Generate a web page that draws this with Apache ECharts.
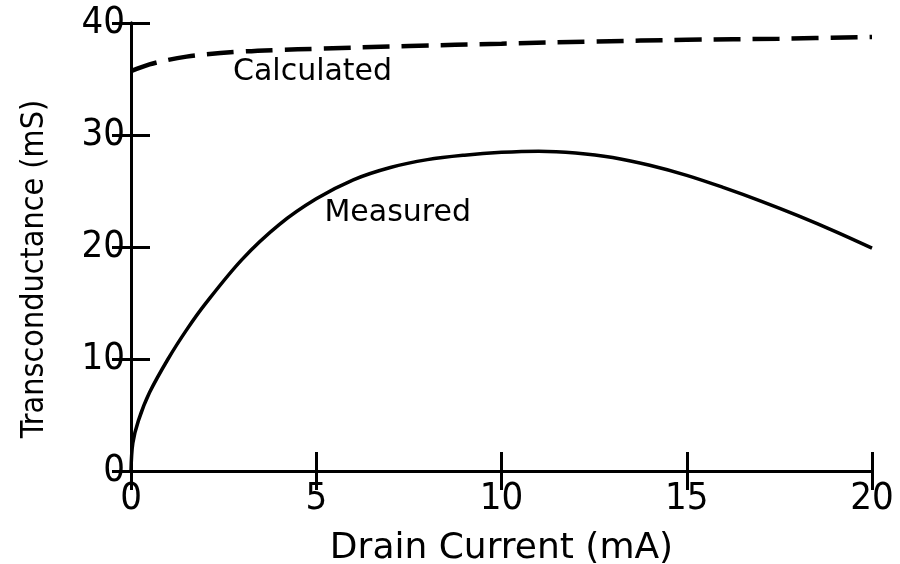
<!DOCTYPE html>
<html>
<head>
<meta charset="utf-8">
<script src="https://cdn.jsdelivr.net/npm/echarts@6/dist/echarts.min.js"></script>
<style>
  html, body { margin: 0; padding: 0; background: #fff; }
  #chart { width: 900px; height: 564px; }
</style>
</head>
<body>
<div id="chart"></div>
<script>
// values (drain current in mA, transconductance in mS)
const measuredX = [0, 0.05, 0.2, 0.5, 1, 1.5, 2, 3, 4, 5, 6, 7, 8, 9, 10, 11, 12, 13, 14, 15, 16, 17, 18, 19, 20];
const measuredY = [0, 2.5, 4.5, 7, 10, 12.6, 14.9, 18.9, 22.0, 24.3, 26.0, 27.1, 27.8, 28.2, 28.45, 28.55, 28.4, 28.0, 27.3, 26.4, 25.3, 24.1, 22.8, 21.4, 19.9];

const calculatedX = [0, 0.5, 1, 1.5, 2, 3, 4, 5, 7.5, 10, 12.5, 15, 17.5, 20];
const calculatedY = [35.7, 36.3, 36.7, 37.0, 37.2, 37.45, 37.6, 37.7, 37.95, 38.15, 38.35, 38.5, 38.6, 38.75];

// curve captions, placed at data coordinates
const captionText = ['Calculated', 'Measured'];
const captionX = [4.9, 7.2];
const captionY = [35.6, 23.0];

const xTicks = [0, 5, 10, 15, 20];
const yTicks = [0, 10, 20, 30, 40];

const FONT = 'DejaVu Sans';
const FONT_C = 'DejaVu Sans Condensed';
const INK = '#000';

const pair = (xs, ys) => xs.map((x, i) => [x, ys[i]]);

const chart = echarts.init(document.getElementById('chart'));

const axisCommon = {
  type: 'value',
  axisLine: { show: true, lineStyle: { color: INK, width: 3 } },
  axisTick: { show: true, inside: true, length: 19, lineStyle: { color: INK, width: 3 } },
  splitLine: { show: false },
  axisLabel: { color: INK, fontFamily: FONT_C, fontSize: 38 },
};

const option = {
  backgroundColor: '#fff',
  animation: false,
  grid: { left: 131, right: 28, top: 23, bottom: 93, containLabel: false, outerBoundsMode: 'none' },
  xAxis: [
    {
      ...axisCommon,
      min: xTicks[0], max: xTicks[xTicks.length - 1], interval: 5,
      name: 'Drain Current (mA)',
      nameLocation: 'middle',
      nameGap: 60,
      nameTextStyle: { color: INK, fontFamily: FONT, fontSize: 36 },
      axisLabel: { ...axisCommon.axisLabel, margin: 9 },
    },
    {
      ...axisCommon,
      position: 'top',
      min: xTicks[0], max: xTicks[xTicks.length - 1], interval: 5,
      axisLabel: { show: false },
    },
  ],
  yAxis: [
    {
      ...axisCommon,
      min: yTicks[0], max: yTicks[yTicks.length - 1], interval: 10,
      name: 'Transconductance (mS)',
      nameLocation: 'middle',
      nameGap: 80,
      nameTextStyle: { color: INK, fontFamily: FONT_C, fontSize: 32, padding: [0, 44, 0, 0] },
      axisLabel: { ...axisCommon.axisLabel, margin: 6 },
    },
    {
      ...axisCommon,
      position: 'right',
      min: yTicks[0], max: yTicks[yTicks.length - 1], interval: 10,
      axisLabel: { show: false },
    },
  ],
  series: [
    {
      name: 'Measured',
      type: 'line',
      smooth: 0.35,
      symbol: 'none',
      data: pair(measuredX, measuredY),
      lineStyle: { color: INK, width: 3.5 },
    },
    {
      name: 'Calculated',
      type: 'line',
      smooth: 0.35,
      symbol: 'none',
      data: pair(calculatedX, calculatedY),
      lineStyle: { color: INK, width: 4.5, type: [27, 12] },
    },
  ],
};

chart.setOption(option);

// captions go through the chart's own coordinate conversion
chart.setOption({
  graphic: captionText.map((t, i) => {
    const [px, py] = chart.convertToPixel({ gridIndex: 0 }, [captionX[i], captionY[i]]);
    return {
      type: 'text',
      x: px,
      y: py,
      silent: true,
      style: {
        text: t,
        fill: INK,
        font: '30px "DejaVu Sans"',
        align: 'center',
        verticalAlign: 'middle',
      },
    };
  }),
});
</script>
</body>
</html>
